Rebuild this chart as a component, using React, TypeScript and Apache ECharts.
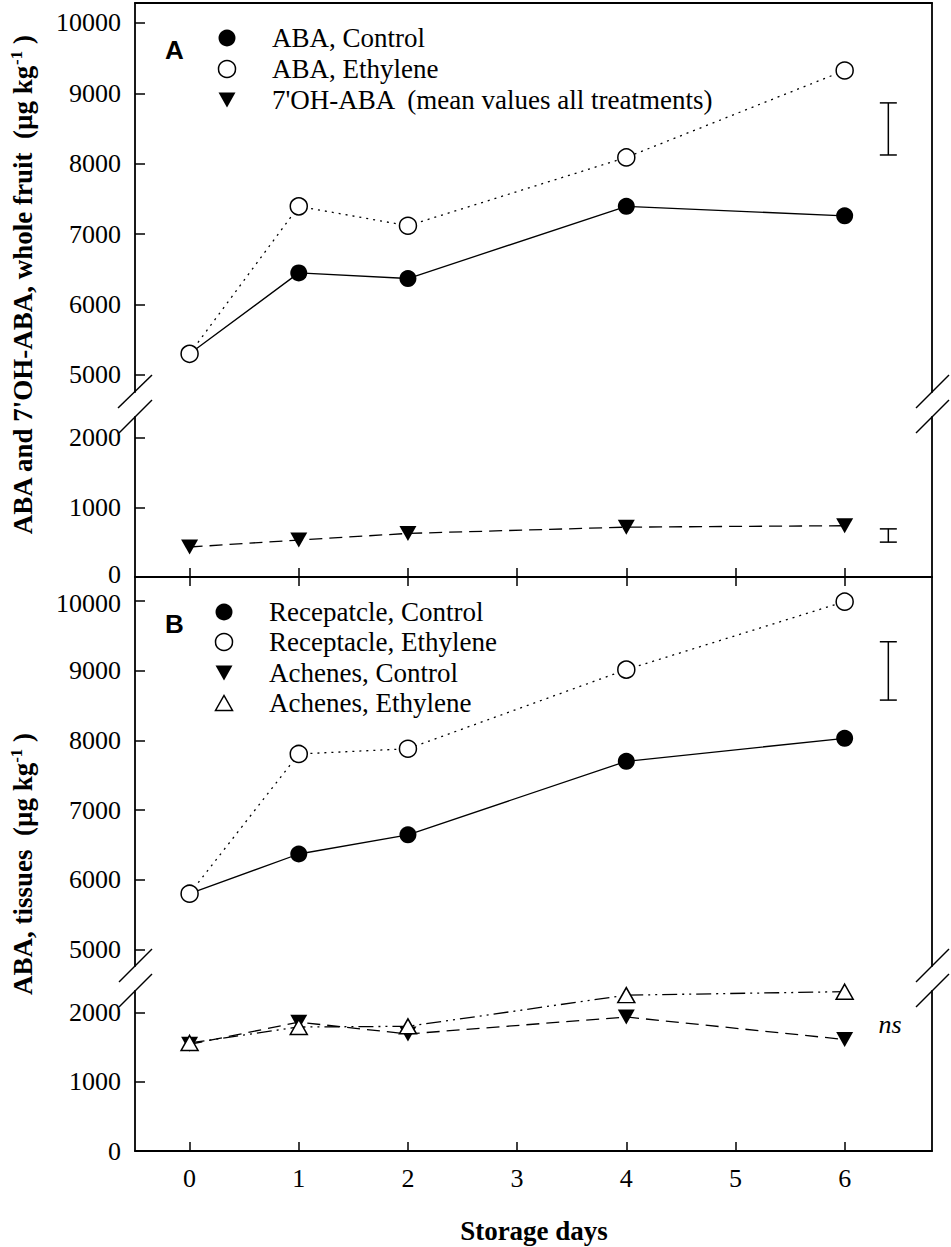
import React, { useEffect, useRef } from "react";
import * as echarts from "echarts";

// ---- data ----
const days = [0, 1, 2, 4, 6];
const abaControl = [5300, 6450, 6370, 7395, 7260];
const abaEthylene = [5300, 7395, 7120, 8090, 9325];
const ohAba = [430, 530, 625, 715, 735];
const recControl = [5800, 6370, 6645, 7700, 8030];
const recEthylene = [5800, 7805, 7880, 9015, 9990];
const achControl = [1540, 1860, 1690, 1935, 1610];
const achEthylene = [1560, 1790, 1800, 2250, 2300];
const xTicks = [0, 1, 2, 3, 4, 5, 6];
const upperTicks = [5000, 6000, 7000, 8000, 9000, 10000];
const lowerTicks = [0, 1000, 2000];
const errAUpper = [6.4, 8125, 8865];
const errALower = [6.4, 500, 690];
const errBUpper = [6.4, 8578, 9415];

const SERIF = "Liberation Serif";
const SANS = "Liberation Sans";

function pairs(ys: number[]) {
  return days.map((d, i) => [d, ys[i]]);
}

function errSeries(xi: number, yi: number, d: number[]) {
  return {
    type: "custom",
    xAxisIndex: xi,
    yAxisIndex: yi,
    data: [d],
    clip: false,
    silent: true,
    encode: { x: 0, y: [1, 2] },
    renderItem: (_p: any, api: any) => {
      const x = api.value(0);
      const lo = api.value(1);
      const hi = api.value(2);
      const a = api.coord([x, lo]);
      const b = api.coord([x, hi]);
      const w = 8.5;
      const st = { stroke: "#000", lineWidth: 1.5 };
      return {
        type: "group",
        children: [
          { type: "line", shape: { x1: a[0], y1: a[1], x2: b[0], y2: b[1] }, style: st },
          { type: "line", shape: { x1: a[0] - w, y1: a[1], x2: a[0] + w, y2: a[1] }, style: st },
          { type: "line", shape: { x1: b[0] - w, y1: b[1], x2: b[0] + w, y2: b[1] }, style: st },
        ],
      };
    },
  };
}

const openStyle = { color: "#fff", borderColor: "#000", borderWidth: 1.5 };
const fillStyle = { color: "#000", borderColor: "#000", borderWidth: 0 };

function lineSeries(
  name: string,
  g: number,
  ys: number[],
  symbol: string,
  filled: boolean,
  dash: any,
  size: any,
  rotate = 0
) {
  return {
    type: "line",
    name,
    xAxisIndex: g,
    yAxisIndex: g * 2,
    data: pairs(ys),
    symbol,
    symbolSize: size,
    symbolRotate: rotate,
    showAllSymbol: true,
    clip: false,
    silent: true,
    itemStyle: filled ? fillStyle : openStyle,
    lineStyle: { color: "#000", width: 1.3, type: dash, cap: "butt" },
    emphasis: { disabled: true },
  };
}

const labelFont = { fontFamily: SERIF, fontSize: 26, color: "#000" };

function yAxisPair(g: number, min: number, max: number, ticks: number[], nudge: { value: number; dir: "up" | "down" } | null) {
  const lineStyle = { color: "#000", width: 1.8 };
  return [
    {
      type: "value",
      gridIndex: g,
      position: "left",
      min,
      max,
      axisLine: { show: true, onZero: false, lineStyle },
      axisTick: { show: true, inside: true, length: 10, customValues: ticks, lineStyle: { color: "#000", width: 1.5 } },
      axisLabel: {
        show: true,
        customValues: ticks,
        margin: 14,
        ...labelFont,
        formatter: (v: number) => (nudge && v === nudge.value ? `{${nudge.dir}|${v}}` : String(v)),
        rich: {
          up: { ...labelFont, padding: [0, 0, 6, 0] },
          down: { ...labelFont, padding: [6, 0, 0, 0] },
        },
      },
      splitLine: { show: false },
    },
    {
      type: "value",
      gridIndex: g,
      position: "right",
      min,
      max,
      axisLine: { show: true, onZero: false, lineStyle },
      axisTick: { show: false },
      axisLabel: { show: false },
      splitLine: { show: false },
    },
  ];
}

function xAxis(g: number, position: string, ticks: boolean, labels: boolean) {
  return {
    type: "value",
    gridIndex: g,
    position,
    min: -0.5,
    max: 6.8,
    axisLine: { show: true, onZero: false, lineStyle: { color: "#000", width: 1.8 } },
    axisTick: { show: ticks, inside: true, length: 9, customValues: xTicks, lineStyle: { color: "#000", width: 1.5 } },
    axisLabel: {
      show: labels,
      customValues: xTicks,
      margin: 14,
      ...labelFont,
      formatter: (v: number) => String(v),
    },
    splitLine: { show: false },
  };
}

function slash(x1: number, y1: number, x2: number, y2: number) {
  return { type: "line", shape: { x1, y1, x2, y2 }, style: { stroke: "#000", lineWidth: 1.5 }, silent: true };
}

function legendText(x: number, y: number, text: string) {
  return {
    type: "text",
    x,
    y,
    silent: true,
    style: {
      text,
      fill: "#000",
      fontFamily: SERIF,
      fontSize: 27,
      align: "left",
      verticalAlign: "middle",
      textAlign: "left",
      textVerticalAlign: "middle",
    },
  };
}

function circ(cx: number, cy: number, filled: boolean) {
  return {
    type: "circle",
    shape: { cx, cy, r: 8.5 },
    silent: true,
    style: filled ? { fill: "#000" } : { fill: "#fff", stroke: "#000", lineWidth: 1.5 },
  };
}

function tri(cx: number, cy: number, down: boolean, filled: boolean) {
  const pts = down
    ? [[cx - 8.5, cy - 7.5], [cx + 8.5, cy - 7.5], [cx, cy + 7.5]]
    : [[cx - 8.5, cy + 7.5], [cx + 8.5, cy + 7.5], [cx, cy - 7.5]];
  return {
    type: "polygon",
    shape: { points: pts },
    silent: true,
    style: filled ? { fill: "#000" } : { fill: "#fff", stroke: "#000", lineWidth: 1.5 },
  };
}

function yTitle(x: number, y: number, main: string) {
  return {
    type: "text",
    x,
    y,
    rotation: Math.PI / 2,
    silent: true,
    style: {
      text: `{b|${main}  (µg kg}{s|-1}{b| )}`,
      rich: {
        b: { fontFamily: SERIF, fontWeight: "bold", fontSize: 27, fill: "#000", color: "#000", lineHeight: 30 },
        s: { fontFamily: SERIF, fontWeight: "bold", fontSize: 17, fill: "#000", color: "#000", verticalAlign: "top", lineHeight: 15 },
      },
      align: "center",
      verticalAlign: "middle",
      textAlign: "center",
      textVerticalAlign: "middle",
    },
  };
}

function panelLabel(y: number, t: string) {
  return {
    type: "text",
    x: 165,
    y,
    silent: true,
    style: { text: t, fill: "#000", fontFamily: SANS, fontWeight: "bold", fontSize: 26, align: "left", verticalAlign: "middle", textAlign: "left", textVerticalAlign: "middle" },
  };
}

export default function App() {
  const ref = useRef<HTMLDivElement>(null);
  useEffect(() => {
    document.body.style.margin = "0";
    const chart = echarts.init(ref.current!, null, { renderer: "svg" });
    const grids = [
      { left: 135, right: 19, top: 3, height: 389 },
      { left: 135, right: 19, top: 417, height: 160 },
      { left: 135, right: 19, top: 577, height: 389 },
      { left: 135, right: 19, top: 991, height: 160 },
    ];
    const option: any = {
      animation: false,
      grid: grids,
      xAxis: [
        xAxis(0, "top", false, false),
        xAxis(1, "bottom", true, false),
        xAxis(2, "top", true, false),
        xAxis(3, "bottom", true, true),
      ],
      yAxis: [
        ...yAxisPair(0, 4758, 10284, upperTicks, null),
        ...yAxisPair(1, 0, 2294, lowerTicks, { value: 0, dir: "up" }),
        ...yAxisPair(2, 4763, 10344, upperTicks, { value: 10000, dir: "down" }),
        ...yAxisPair(3, 0, 2310, lowerTicks, null),
      ],
      series: [
        lineSeries("ABA, Control", 0, abaControl, "circle", true, "solid", 17),
        lineSeries("ABA, Ethylene", 0, abaEthylene, "circle", false, [2, 5], 17),
        lineSeries("7'OH-ABA (mean values all treatments)", 1, ohAba, "triangle", true, [13, 7], [17, 15], 180),
        lineSeries("Recepatcle, Control", 2, recControl, "circle", true, "solid", 17),
        lineSeries("Receptacle, Ethylene", 2, recEthylene, "circle", false, [2, 5], 17),
        lineSeries("Achenes, Control", 3, achControl, "triangle", true, [13, 7], [17, 15], 180),
        lineSeries("Achenes, Ethylene", 3, achEthylene, "triangle", false, [15, 5, 2, 5, 2, 5], [17, 15]),
        errSeries(0, 0, errAUpper),
        errSeries(1, 2, errALower),
        errSeries(2, 4, errBUpper),
      ],
      graphic: [
        // axis breaks
        slash(118, 408, 152, 375),
        slash(119, 433, 152, 400),
        slash(916, 408, 949, 375),
        slash(916, 433, 949, 400),
        slash(119, 982, 152, 949),
        slash(119, 1007, 152, 974),
        slash(916, 982, 949, 949),
        slash(916, 1007, 949, 974),
        // panel labels
        panelLabel(50, "A"),
        panelLabel(624, "B"),
        // legend A
        circ(227, 38, true),
        legendText(272, 38, "ABA, Control"),
        circ(227, 69, false),
        legendText(272, 69, "ABA, Ethylene"),
        tri(227, 100, true, true),
        legendText(272, 100, "7'OH-ABA  (mean values all treatments)"),
        // legend B
        circ(224, 612, true),
        legendText(269, 612, "Recepatcle, Control"),
        circ(224, 642, false),
        legendText(269, 642, "Receptacle, Ethylene"),
        tri(224, 673, true, true),
        legendText(269, 673, "Achenes, Control"),
        tri(224, 703, false, false),
        legendText(269, 703, "Achenes, Ethylene"),
        // ns
        {
          type: "text",
          x: 890,
          y: 1024,
          silent: true,
          style: { text: "ns", fill: "#000", fontFamily: SERIF, fontStyle: "italic", fontSize: 26, align: "center", verticalAlign: "middle", textAlign: "center", textVerticalAlign: "middle" },
        },
        // axis titles
        yTitle(23, 285, "ABA and 7'OH-ABA, whole fruit"),
        yTitle(23, 864, "ABA, tissues"),
        {
          type: "text",
          x: 534,
          y: 1231,
          silent: true,
          style: { text: "Storage days", fill: "#000", fontFamily: SERIF, fontWeight: "bold", fontSize: 27, align: "center", verticalAlign: "middle", textAlign: "center", textVerticalAlign: "middle" },
        },
      ],
    };
    chart.setOption(option);
    return () => chart.dispose();
  }, []);
  return <div ref={ref} style={{ width: 951, height: 1247 }} />;
}
